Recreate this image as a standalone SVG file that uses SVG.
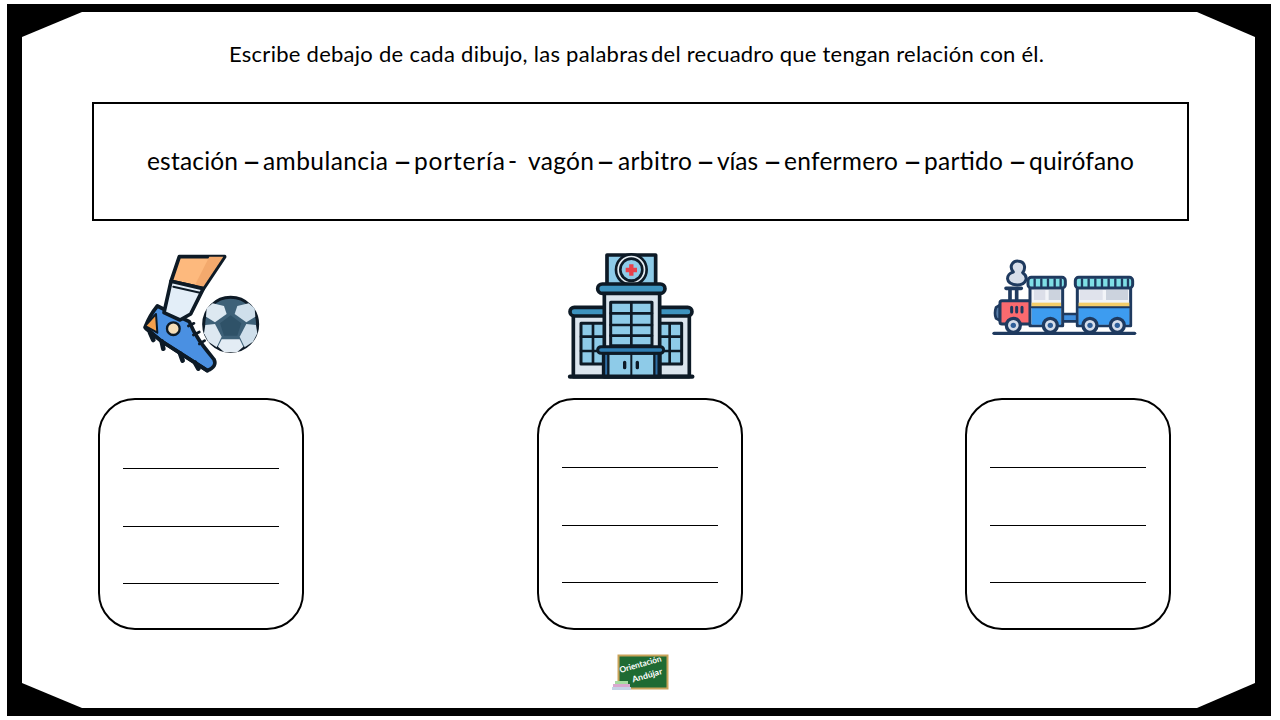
<svg xmlns="http://www.w3.org/2000/svg" width="1280" height="720" viewBox="0 0 1280 720">
<style>
text{font-family:"Lato","Liberation Sans",sans-serif;fill:#000}
.box{fill:#fff;stroke:#000;stroke-width:2}
.ln{stroke:#000;stroke-width:1;fill:none}
.k{stroke:#0d1a26;stroke-linejoin:round;stroke-linecap:round}
.t{stroke:#1f3a5f;stroke-linejoin:round;stroke-linecap:round}
.dash{font-size:33px}
</style>
<rect width="1280" height="720" fill="#fff"/>
<g id="frame">
<rect x="7" y="4" width="1264" height="712" fill="#000"/>
<polygon points="82,12 1197,12 1255,37 1255,683 1197,708 82,708 22,683 22,37" fill="#fff"/>
</g>
<g id="title"><text y="62" font-size="22"><tspan x="229" textLength="419">Escribe debajo de cada dibujo, las palabras</tspan> <tspan x="651" textLength="393">del recuadro que tengan relación con él.</tspan></text></g>
<g id="word-box">
<rect class="box" x="93" y="103" width="1095" height="117"/>
<text y="170" font-size="24.5"><tspan x="147" textLength="91">estación</tspan> <tspan class="dash" x="242" dy="2.500">–</tspan> <tspan x="263" dy="-2.500" textLength="125">ambulancia</tspan> <tspan class="dash" x="393" dy="2.500">–</tspan> <tspan x="414" dy="-2.500" textLength="91">portería</tspan> <tspan x="508">-</tspan> <tspan x="528" textLength="66">vagón</tspan> <tspan class="dash" x="596" dy="2.500">–</tspan> <tspan x="618" dy="-2.500" textLength="74">arbitro</tspan> <tspan class="dash" x="696" dy="2.500">–</tspan> <tspan x="717" dy="-2.500" textLength="41">vías</tspan> <tspan class="dash" x="763" dy="2.500">–</tspan> <tspan x="784" dy="-2.500" textLength="114">enfermero</tspan> <tspan class="dash" x="903" dy="2.500">–</tspan> <tspan x="924" dy="-2.500" textLength="79">partido</tspan> <tspan class="dash" x="1008" dy="2.500">–</tspan> <tspan x="1029" dy="-2.500" textLength="105">quirófano</tspan></text>
</g>
<g id="icon-football" transform="translate(120,240) scale(.3333)">
<path d="M112,198Q90,225 75,262L125,304L262,392Q292,380 282,358C255,325 225,290 208,245Z" fill="#4a90e2" class="k" stroke-width="11"/>
<path d="M108,222L75,258L112,278Z" fill="#f5a04c" class="k" stroke-width="6"/>
<path d="M90,278L100,300M125,304L130,326M180,340L188,362M225,368L235,386" class="k" stroke-width="14" fill="none"/>
<path d="M78,266L125,304L262,392" class="k" stroke-width="11" fill="none"/>
<polygon points="178,50 314,50 250,146 153,124" fill="#fdb97d" class="k" stroke-width="11"/>
<polygon points="268,50 310,50 250,140 225,135" fill="#f3a96d"/>
<polygon points="153,124 250,146 212,222 180,240 132,218" fill="#e3eef8" class="k" stroke-width="11"/>
<path d="M160,140L240,158" class="k" stroke-width="6" fill="none"/>
<circle cx="160" cy="266" r="19" fill="#f6deb8" class="k" stroke-width="7"/>
<path d="M205,258L222,250M220,285L238,276M238,312L254,302" class="k" stroke-width="8" fill="none"/>
<circle cx="332" cy="253" r="81" fill="#3e6178" class="k" stroke-width="9"/>
<polygon points="332,226 364,250 352,287 312,287 300,250" fill="#2f5268"/>
<polygon points="278,190 312,198 320,222 285,247 258,230 260,205" fill="#dde8f1"/>
<polygon points="386,190 352,198 344,222 379,247 406,230 404,205" fill="#cfdfeb"/>
<polygon points="256,255 285,252 305,290 290,322 265,305 252,280" fill="#dde8f1"/>
<polygon points="408,255 379,252 359,290 374,322 399,305 412,280" fill="#cfdfeb"/>
<polygon points="305,298 359,298 370,320 352,336 312,336 294,320" fill="#e3ecf4"/>
</g>
<g id="icon-hospital" transform="translate(555,245) scale(.3333)">
<rect x="55" y="200" width="348" height="195" fill="#dbe5ee" class="k" stroke-width="11"/>
<rect x="78" y="235" width="72" height="122" fill="#8ecbe8" class="k" stroke-width="9"/>
<rect x="308" y="235" width="72" height="122" fill="#8ecbe8" class="k" stroke-width="9"/>
<path d="M114,235V355M78,275H150M78,318H150M344,235V355M308,275H380M308,318H380" class="k" stroke-width="8" fill="none"/>
<rect x="45" y="187" width="366" height="26" rx="13" fill="#3d93bf" class="k" stroke-width="11"/>
<rect x="148" y="140" width="166" height="255" fill="#dbe5ee" class="k" stroke-width="11"/>
<rect x="167" y="172" width="124" height="130" fill="#8ecbe8" class="k" stroke-width="9"/>
<path d="M229,172V300M167,205H291M167,240H291M167,272H291" class="k" stroke-width="8" fill="none"/>
<rect x="156" y="30" width="146" height="90" fill="#8ecbe8" class="k" stroke-width="11"/>
<circle cx="229" cy="74" r="46" fill="#e5edf3" class="k" stroke-width="8"/>
<circle cx="229" cy="74" r="33" fill="#8ecbe8" class="k" stroke-width="8"/>
<path d="M229,58V92M212,75H246" stroke="#e8404a" stroke-width="13" fill="none"/>
<rect x="128" y="117" width="202" height="28" rx="14" fill="#3d93bf" class="k" stroke-width="11"/>
<rect x="145" y="325" width="170" height="70" fill="#8ecbe8" class="k" stroke-width="9"/>
<rect x="147" y="325" width="13" height="70" fill="#2f6ea5" class="k" stroke-width="7"/>
<rect x="298" y="325" width="13" height="70" fill="#2f6ea5" class="k" stroke-width="7"/>
<path d="M229,325V395" class="k" stroke-width="6" fill="none"/>
<path d="M209,352V368M247,352V368" class="k" stroke-width="10" fill="none"/>
<rect x="128" y="305" width="198" height="20" rx="10" fill="#2f7fb5" class="k" stroke-width="9"/>
<path d="M45,395H412" class="k" stroke-width="13" fill="none"/>
</g>
<g id="icon-train" transform="translate(980,250) scale(.3333)">
<path d="M42,250H464" class="t" stroke-width="10" fill="none"/>
<rect x="245" y="192" width="50" height="22" fill="#3f8fe0" class="t" stroke-width="8"/>
<path d="M112,105C72,102 78,72 100,66C84,46 102,30 118,34C138,38 136,58 128,68C146,80 140,105 112,105Z" fill="#d7deea" class="t" stroke-width="9"/>
<path d="M78,115H124M90,115V150M110,115V150" class="t" stroke-width="11" fill="none"/>
<path d="M60,165L48,172Q42,190 48,205L60,212Z" fill="#5a7faa" class="t" stroke-width="8"/>
<rect x="60" y="152" width="98" height="70" rx="6" fill="#fb6a6f" class="t" stroke-width="9"/>
<path d="M95,172V186M110,172V186M126,172V186" class="t" stroke-width="9" fill="none"/>
<rect x="150" y="112" width="98" height="115" fill="#f2f4f8" class="t" stroke-width="9"/>
<rect x="162" y="120" width="34" height="30" fill="#dcdfe9"/><rect x="206" y="120" width="36" height="30" fill="#ccd3de"/>
<rect x="155" y="172" width="88" height="52" fill="#3d9cf0"/>
<rect x="155" y="158" width="88" height="14" fill="#f4ce6a"/>
<path d="M155,172H243" class="t" stroke-width="6" fill="none"/>
<rect x="144" y="82" width="112" height="32" rx="10" fill="#7fdfe6" class="t" stroke-width="9"/>
<path d="M164,88V110M184,88V110M204,88V110M224,88V110M242,88V110" class="t" stroke-width="7" fill="none"/>
<rect x="292" y="112" width="160" height="115" fill="#f2f4f8" class="t" stroke-width="9"/>
<rect x="300" y="120" width="68" height="30" fill="#e0e3ec"/><rect x="378" y="120" width="66" height="30" fill="#ccd3de"/>
<rect x="296" y="172" width="152" height="52" fill="#3d9cf0"/>
<rect x="296" y="158" width="152" height="14" fill="#f4ce6a"/>
<path d="M296,172H448" class="t" stroke-width="6" fill="none"/>
<rect x="286" y="82" width="172" height="32" rx="10" fill="#7fdfe6" class="t" stroke-width="9"/>
<path d="M306,88V110M326,88V110M346,88V110M366,88V110M386,88V110M406,88V110M426,88V110M444,88V110" class="t" stroke-width="7" fill="none"/>
<g fill="#d5ddea" class="t" stroke-width="10">
<circle cx="100" cy="226" r="21"/><circle cx="211" cy="226" r="21"/><circle cx="330" cy="226" r="21"/><circle cx="412" cy="226" r="21"/>
</g>
<g fill="#2f5f9a"><circle cx="100" cy="226" r="8"/><circle cx="211" cy="226" r="8"/><circle cx="330" cy="226" r="8"/><circle cx="412" cy="226" r="8"/></g>
</g>
<g id="card-1">
<rect class="box" x="99" y="399" width="204" height="230" rx="36"/>
<path class="ln" d="M123,468.500H279M123,526.500H279M123,583.500H279"/>
</g>
<g id="card-2">
<rect class="box" x="538" y="399" width="204" height="230" rx="36"/>
<path class="ln" d="M562,467.500H718M562,525.500H718M562,582.500H718"/>
</g>
<g id="card-3">
<rect class="box" x="966" y="399" width="204" height="230" rx="36"/>
<path class="ln" d="M990,467.500H1146M990,525.500H1146M990,582.500H1146"/>
</g>
<g id="logo">
<rect x="618.500" y="655.500" width="49" height="33" fill="#1f6b33" stroke="#c9a35a" stroke-width="2"/>
<rect x="612" y="687" width="19" height="3" fill="#c5d3e6"/>
<rect x="613" y="684" width="17" height="3" fill="#d9a8cf"/>
<rect x="615" y="681" width="13" height="3" fill="#a6dba0"/>
<text transform="translate(620.500,673) rotate(-16)" font-size="8.500" font-weight="700" textLength="43" lengthAdjust="spacingAndGlyphs" style="fill:#fff">Orientación</text>
<text transform="translate(633,682.500) rotate(-16)" font-size="8.500" font-weight="700" textLength="31" lengthAdjust="spacingAndGlyphs" style="fill:#fff">Andújar</text>
</g>
</svg>
